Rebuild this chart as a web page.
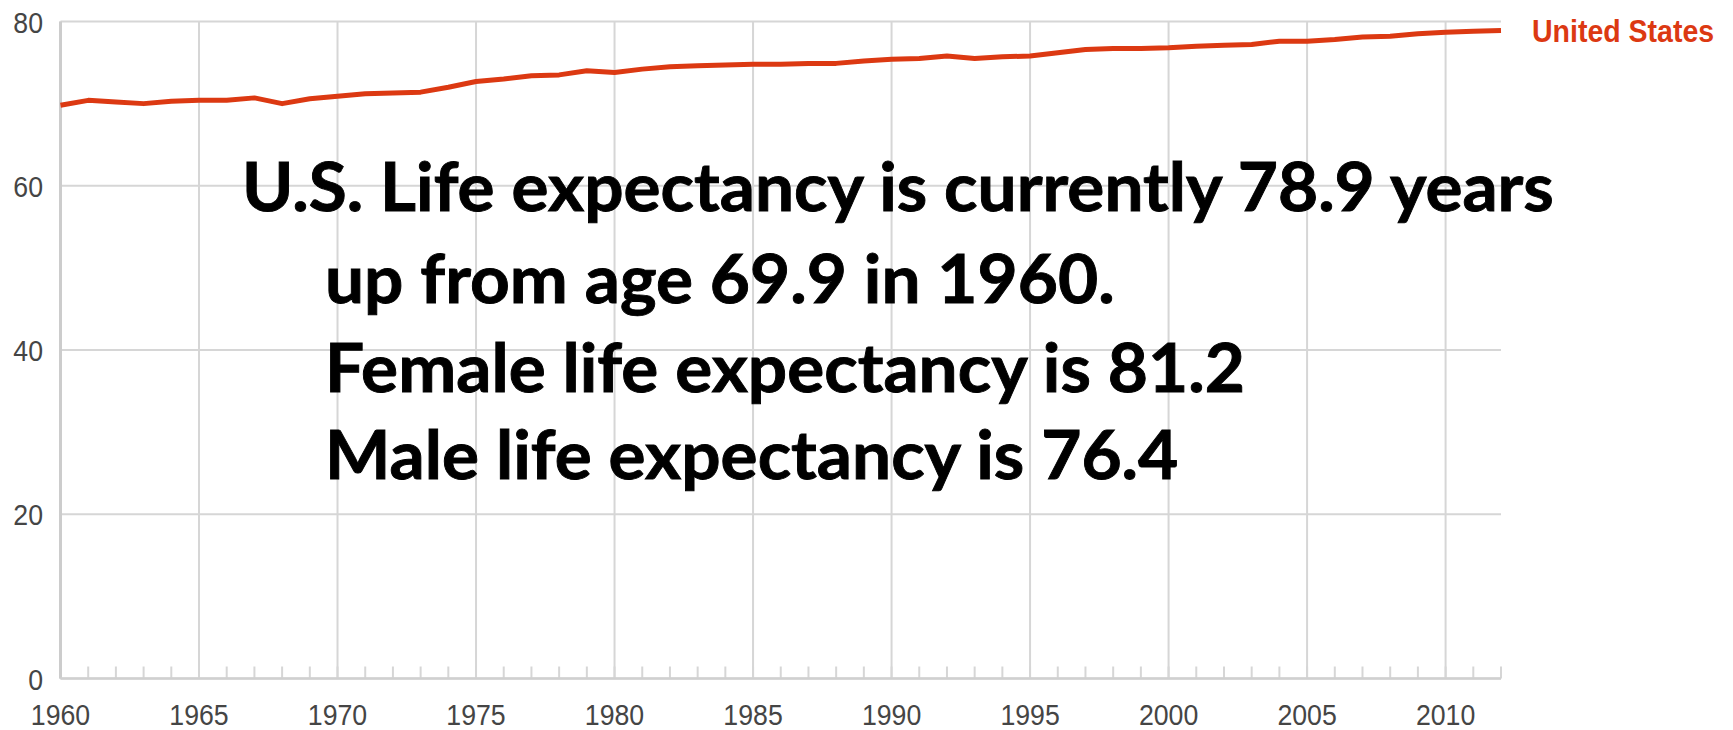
<!DOCTYPE html>
<html>
<head>
<meta charset="utf-8">
<script src="https://cdn.jsdelivr.net/npm/d3@7"></script>
<style>
  html, body { margin: 0; padding: 0; background: #fff; }
  svg { display: block; }
</style>
</head>
<body>
<div id="chart"></div>
<script>
// life expectancy at birth (years), United States
const years = [
  1960, 1961, 1962, 1963, 1964, 1965, 1966, 1967, 1968, 1969,
  1970, 1971, 1972, 1973, 1974, 1975, 1976, 1977, 1978, 1979,
  1980, 1981, 1982, 1983, 1984, 1985, 1986, 1987, 1988, 1989,
  1990, 1991, 1992, 1993, 1994, 1995, 1996, 1997, 1998, 1999,
  2000, 2001, 2002, 2003, 2004, 2005, 2006, 2007, 2008, 2009,
  2010, 2011, 2012,
];
const lifeExpectancy = [
  69.8, 70.4, 70.2, 70.0, 70.3, 70.4, 70.4, 70.7, 70.0, 70.6,
  70.9, 71.2, 71.3, 71.4, 72.0, 72.7, 73.0, 73.4, 73.5, 74.0,
  73.8, 74.2, 74.5, 74.6, 74.7, 74.8, 74.8, 74.9, 74.9, 75.2,
  75.4, 75.5, 75.8, 75.5, 75.7, 75.8, 76.2, 76.6, 76.7, 76.7,
  76.8, 77.0, 77.1, 77.2, 77.6, 77.6, 77.8, 78.1, 78.2, 78.5,
  78.7, 78.8, 78.9,
];
const yTicks = [0, 20, 40, 60, 80];
const xTicks = [1960, 1965, 1970, 1975, 1980, 1985, 1990, 1995, 2000, 2005, 2010];
const seriesName = "United States";
const noteLines = [
  "U.S. Life expectancy is currently 78.9 years",
  "up from age 69.9 in 1960.",
  "Female life expectancy is 81.2",
  "Male life expectancy is 76.4",
];

const config = {
  width: 1733,
  height: 730,
  margin: { top: 21.5, right: 232, bottom: 51.5, left: 60.5 },
  lineColor: "#dc3912",
  gridColor: "#d6d6d6",
  labelColor: "#454545",
};

const svg = d3
  .select("#chart")
  .append("svg")
  .attr("width", config.width)
  .attr("height", config.height);

const x = d3
  .scaleLinear()
  .domain([years[0], years[years.length - 1]])
  .range([config.margin.left, config.width - config.margin.right]);

const y = d3
  .scaleLinear()
  .domain([0, 80])
  .range([config.height - config.margin.bottom, config.margin.top]);

const [x0, x1] = x.range();
const [yBottom, yTop] = y.range();

// horizontal gridlines
svg
  .append("g")
  .selectAll("line")
  .data(yTicks)
  .join("line")
  .attr("x1", x0)
  .attr("x2", x1)
  .attr("y1", (d) => y(d))
  .attr("y2", (d) => y(d))
  .attr("stroke", config.gridColor)
  .attr("stroke-width", 2);

// vertical gridlines every 5 years
svg
  .append("g")
  .selectAll("line")
  .data(xTicks)
  .join("line")
  .attr("x1", (d) => x(d))
  .attr("x2", (d) => x(d))
  .attr("y1", yTop)
  .attr("y2", yBottom)
  .attr("stroke", config.gridColor)
  .attr("stroke-width", 2);

// small tick for every year along the bottom
svg
  .append("g")
  .selectAll("line")
  .data(years)
  .join("line")
  .attr("x1", (d) => x(d))
  .attr("x2", (d) => x(d))
  .attr("y1", yBottom)
  .attr("y2", yBottom - 12)
  .attr("stroke", config.gridColor)
  .attr("stroke-width", 2);

// left + bottom axis lines
svg
  .append("line")
  .attr("x1", x0)
  .attr("x2", x0)
  .attr("y1", yTop)
  .attr("y2", yBottom)
  .attr("stroke", "#cccccc")
  .attr("stroke-width", 3);
svg
  .append("line")
  .attr("x1", x0)
  .attr("x2", x1)
  .attr("y1", yBottom)
  .attr("y2", yBottom)
  .attr("stroke", "#d0d0d0")
  .attr("stroke-width", 2.5);

// tick labels (text in the source is slightly narrow, so squeeze it a bit)
const tickFont = 30;
const tickSquash = 0.89;

svg
  .append("g")
  .selectAll("text")
  .data(yTicks)
  .join("text")
  .attr("transform", (d) => `translate(43, ${y(d) + 11}) scale(${tickSquash}, 1)`)
  .attr("text-anchor", "end")
  .attr("font-family", "Liberation Sans, Arial, sans-serif")
  .attr("font-size", tickFont)
  .attr("fill", config.labelColor)
  .text((d) => d);

svg
  .append("g")
  .selectAll("text")
  .data(xTicks)
  .join("text")
  .attr("transform", (d) => `translate(${x(d)}, 725) scale(${tickSquash}, 1)`)
  .attr("text-anchor", "middle")
  .attr("font-family", "Liberation Sans, Arial, sans-serif")
  .attr("font-size", tickFont)
  .attr("fill", config.labelColor)
  .text((d) => d);

// the series line
const line = d3
  .line()
  .x((d, i) => x(years[i]))
  .y((d) => y(d));

svg
  .append("path")
  .datum(lifeExpectancy)
  .attr("fill", "none")
  .attr("stroke", config.lineColor)
  .attr("stroke-width", 5)
  .attr("stroke-linejoin", "round")
  .attr("d", line);

// series label at the end of the line
const lastVal = lifeExpectancy[lifeExpectancy.length - 1];
svg
  .append("text")
  .attr("transform", `translate(${x1 + 31}, ${y(lastVal) + 11}) scale(0.92, 1)`)
  .attr("font-family", "Liberation Sans, Arial, sans-serif")
  .attr("font-weight", "bold")
  .attr("font-size", 31)
  .attr("fill", config.lineColor)
  .text(seriesName);

// big annotation text block
const notePos = [
  { x: 242, y: 211 },
  { x: 325, y: 303 },
  { x: 325, y: 392 },
  { x: 325, y: 479 },
];
const noteWidth = 1312; // width of the first line in the picture

const notes = svg
  .append("g")
  .selectAll("text")
  .data(noteLines)
  .join("text")
  .attr("font-family", "Lato, Carlito, 'Open Sans', sans-serif")
  .attr("font-weight", "bold")
  .attr("font-size", 67)
  .attr("fill", "#000")
  .attr("stroke", "#000")
  .attr("stroke-width", 0.9)
  .text((d) => d);

const natural = notes.node().getComputedTextLength();
const sx = noteWidth / natural;
notes.attr("transform", (d, i) => `translate(${notePos[i].x}, ${notePos[i].y}) scale(${sx}, 1)`);
</script>
</body>
</html>
